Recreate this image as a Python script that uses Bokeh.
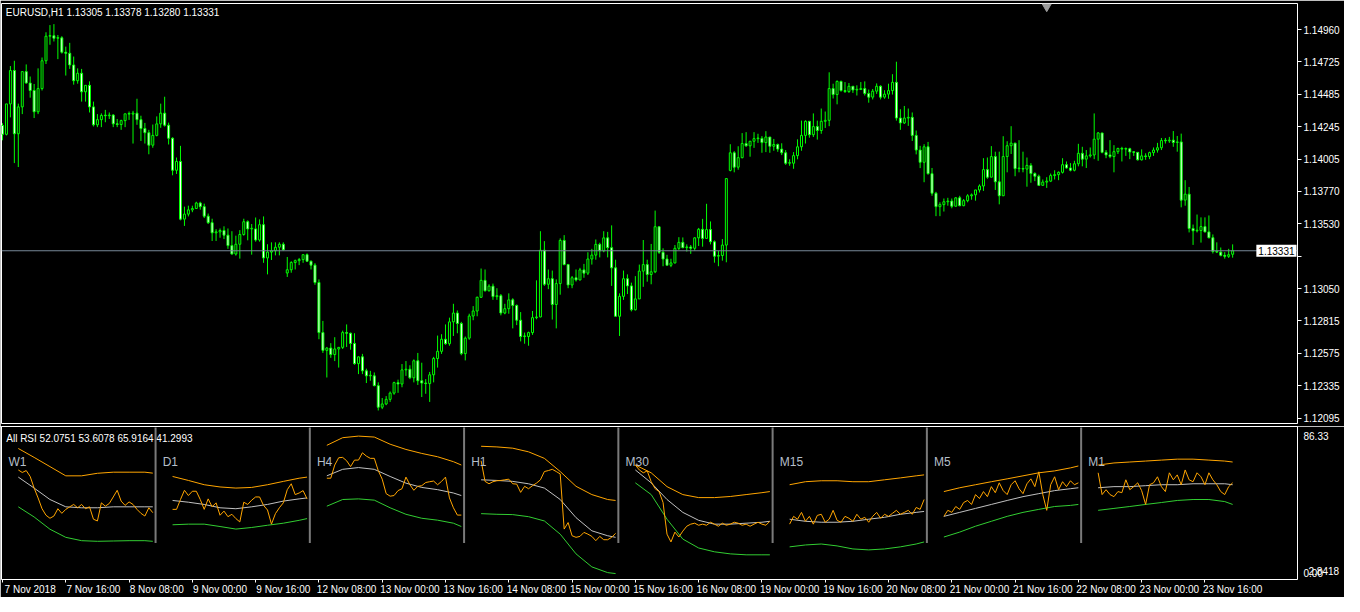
from bokeh.plotting import figure
from bokeh.models import (ColumnDataSource, FixedTicker, Span, Label, Range1d,
                          CustomJSTickFormatter)
from bokeh.layouts import column
from bokeh.embed import file_html
from bokeh.resources import INLINE
from bokeh.core.properties import value

FONT = "Liberation Sans"

chart_title = "EURUSD,H1  1.13305 1.13378 1.13280 1.13331"
rsi_title = "All RSI 52.0751 53.6078 65.9164 41.2993"

# ---------------- EURUSD H1 candles (bar 0 = 7 Nov 2018 00:00) ----------------
first_open = 1.14254
gap_opens = {72: 1.13167, 184: 1.13923, 311: 1.13305}

closes = [
    1.14189, 1.14413, 1.14659, 1.14193, 1.14391, 1.14651, 1.14567, 1.14512, 1.14355, 1.14526,
    1.14731, 1.14912, 1.14916, 1.14897, 1.14900, 1.14794, 1.14786, 1.14700, 1.14584, 1.14639,
    1.14502, 1.14550, 1.14391, 1.14259, 1.14297, 1.14328, 1.14326, 1.14331, 1.14266, 1.14261,
    1.14290, 1.14340, 1.14338, 1.14345, 1.14297, 1.14232, 1.14201, 1.14109, 1.14181, 1.14266,
    1.14345, 1.14256, 1.14160, 1.13924, 1.13989, 1.13564, 1.13601, 1.13632, 1.13642, 1.13683,
    1.13656, 1.13586, 1.13538, 1.13463, 1.13470, 1.13480, 1.13446, 1.13369, 1.13307, 1.13379,
    1.13451, 1.13545, 1.13492, 1.13492, 1.13410, 1.13523, 1.13278, 1.13321, 1.13331, 1.13357,
    1.13379, 1.13338, 1.13191, 1.13244, 1.13258, 1.13266, 1.13302, 1.13254, 1.13225, 1.13097,
    1.12728, 1.12597, 1.12614, 1.12566, 1.12607, 1.12619, 1.12728, 1.12723, 1.12648, 1.12499,
    1.12549, 1.12446, 1.12409, 1.12409, 1.12337, 1.12178, 1.12202, 1.12236, 1.12282, 1.12359,
    1.12349, 1.12453, 1.12458, 1.12395, 1.12520, 1.12373, 1.12356, 1.12352, 1.12417, 1.12537,
    1.12590, 1.12679, 1.12646, 1.12807, 1.12872, 1.12795, 1.12573, 1.12687, 1.12850, 1.12887,
    1.12988, 1.13113, 1.13036, 1.13070, 1.12993, 1.13000, 1.12872, 1.12904, 1.12969, 1.12928,
    1.12819, 1.12699, 1.12699, 1.12728, 1.12838, 1.12843, 1.13335, 1.13084, 1.13125, 1.12935,
    1.13089, 1.13407, 1.13229, 1.13079, 1.13132, 1.13116, 1.13190, 1.13166, 1.13270, 1.13299,
    1.13378, 1.13330, 1.13426, 1.13354, 1.13205, 1.12848, 1.12995, 1.13125, 1.13072, 1.12896,
    1.12976, 1.13181, 1.13229, 1.13156, 1.13176, 1.13508, 1.13320, 1.13270, 1.13224, 1.13241,
    1.13349, 1.13393, 1.13354, 1.13359, 1.13349, 1.13426, 1.13489, 1.13422, 1.13487, 1.13397,
    1.13291, 1.13296, 1.13373, 1.13863, 1.14053, 1.13947, 1.14017, 1.14121, 1.14104, 1.14138,
    1.14157, 1.14159, 1.14128, 1.14169, 1.14101, 1.14114, 1.14080, 1.14053, 1.13976, 1.13976,
    1.14032, 1.14097, 1.14181, 1.14285, 1.14186, 1.14246, 1.14217, 1.14285, 1.14292, 1.14526,
    1.14482, 1.14579, 1.14511, 1.14504, 1.14543, 1.14516, 1.14519, 1.14526, 1.14490, 1.14463,
    1.14507, 1.14543, 1.14463, 1.14485, 1.14511, 1.14572, 1.14309, 1.14273, 1.14309, 1.14314,
    1.14181, 1.14073, 1.13983, 1.14097, 1.13899,
    1.13755, 1.13656, 1.13671, 1.13692, 1.13697, 1.13659, 1.13721, 1.13663, 1.13700, 1.13736,
    1.13743, 1.13779, 1.13808, 1.13929, 1.13873, 1.14025, 1.13839, 1.13736, 1.14025, 1.14105,
    1.14124, 1.13936, 1.13936, 1.13933, 1.13960, 1.13900, 1.13880, 1.13813, 1.13837, 1.13844,
    1.13885, 1.13892, 1.13909, 1.13965, 1.13941, 1.13924, 1.13972, 1.14049, 1.14006, 1.14030,
    1.14037, 1.14153, 1.14199, 1.14056, 1.14037, 1.14025, 1.14061, 1.14085, 1.14080, 1.14083,
    1.14059, 1.14056, 1.14001, 1.14030, 1.14025, 1.14054, 1.14073, 1.14090, 1.14143, 1.14141,
    1.14146, 1.14129, 1.14133, 1.13704, 1.13748, 1.13495, 1.13478, 1.13480, 1.13509, 1.13470,
    1.13427, 1.13326, 1.13321, 1.13297, 1.13290, 1.13302, 1.13331,
]

highs = [
    1.14271, 1.14413, 1.14692, 1.14731, 1.14415, 1.14651, 1.14704, 1.14615, 1.14560, 1.14675,
    1.14755, 1.14941, 1.14994, 1.15001, 1.14921, 1.14912, 1.14835, 1.14863, 1.14762, 1.14675,
    1.14671, 1.14550, 1.14579, 1.14430, 1.14338, 1.14343, 1.14369, 1.14350, 1.14338, 1.14302,
    1.14297, 1.14340, 1.14357, 1.14362, 1.14451, 1.14326, 1.14273, 1.14222, 1.14261, 1.14321,
    1.14415, 1.14466, 1.14275, 1.14167, 1.14018, 1.14104, 1.13656, 1.13663, 1.13663, 1.13692,
    1.13692, 1.13678, 1.13605, 1.13567, 1.13490, 1.13495, 1.13511, 1.13495, 1.13475, 1.13442,
    1.13483, 1.13567, 1.13555, 1.13528, 1.13576, 1.13562, 1.13584, 1.13379, 1.13393, 1.13393,
    1.13393, 1.13393, 1.13285, 1.13254, 1.13266, 1.13278, 1.13302, 1.13311, 1.13258, 1.13239,
    1.13120, 1.12814, 1.12622, 1.12650, 1.12694, 1.12622, 1.12742, 1.12788, 1.12728, 1.12723,
    1.12554, 1.12571, 1.12462, 1.12446, 1.12434, 1.12361, 1.12246, 1.12260, 1.12294, 1.12366,
    1.12381, 1.12496, 1.12518, 1.12487, 1.12530, 1.12578, 1.12506, 1.12385, 1.12438, 1.12549,
    1.12706, 1.12716, 1.12788, 1.12838, 1.12940, 1.12891, 1.12807, 1.12699, 1.12867, 1.12923,
    1.12993, 1.13200, 1.13193, 1.13084, 1.13089, 1.13055, 1.13012, 1.12940, 1.13017, 1.12981,
    1.12935, 1.12879, 1.12728, 1.12735, 1.12887, 1.13113, 1.13475, 1.13402, 1.13193, 1.13185,
    1.13120, 1.13422, 1.13446, 1.13234, 1.13145, 1.13193, 1.13205, 1.13234, 1.13320, 1.13345,
    1.13414, 1.13390, 1.13475, 1.13470, 1.13518, 1.13265, 1.13017, 1.13185, 1.13157, 1.13096,
    1.13144, 1.13229, 1.13410, 1.13265, 1.13381, 1.13627, 1.13508, 1.13349, 1.13301, 1.13272,
    1.13373, 1.13431, 1.13429, 1.13378, 1.13373, 1.13431, 1.13499, 1.13566, 1.13677, 1.13547,
    1.13407, 1.13330, 1.13417, 1.13863, 1.14116, 1.14065, 1.14101, 1.14198, 1.14205, 1.14140,
    1.14205, 1.14193, 1.14176, 1.14212, 1.14145, 1.14155, 1.14121, 1.14123, 1.14073, 1.14005,
    1.14058, 1.14152, 1.14290, 1.14292, 1.14285, 1.14343, 1.14290, 1.14379, 1.14357, 1.14646,
    1.14562, 1.14586, 1.14584, 1.14574, 1.14567, 1.14543, 1.14550, 1.14574, 1.14579, 1.14519,
    1.14523, 1.14564, 1.14550, 1.14514, 1.14562, 1.14632, 1.14724, 1.14374, 1.14398, 1.14379,
    1.14350, 1.14217, 1.14104, 1.14116, 1.14133,
    1.13941, 1.13765, 1.13688, 1.13716, 1.13721, 1.13716, 1.13726, 1.13736, 1.13712, 1.13748,
    1.13753, 1.13779, 1.13820, 1.14013, 1.14018, 1.14102, 1.14061, 1.14061, 1.14175, 1.14138,
    1.14249, 1.14126, 1.14146, 1.14061, 1.14018, 1.13977, 1.13909, 1.13892, 1.13856, 1.13873,
    1.13900, 1.13924, 1.13916, 1.14013, 1.13989, 1.13977, 1.13994, 1.14119, 1.14097, 1.14073,
    1.14092, 1.14343, 1.14206, 1.14199, 1.14073, 1.14146, 1.14109, 1.14090, 1.14097, 1.14092,
    1.14090, 1.14061, 1.14056, 1.14078, 1.14049, 1.14061, 1.14092, 1.14126, 1.14162, 1.14162,
    1.14170, 1.14213, 1.14177, 1.14194, 1.13851, 1.13801, 1.13524, 1.13598, 1.13577, 1.13577,
    1.13591, 1.13451, 1.13393, 1.13355, 1.13321, 1.13345, 1.13378,
]

lows = [
    1.14145, 1.14181, 1.14314, 1.13977, 1.13948, 1.14338, 1.14562, 1.14459, 1.14309, 1.14338,
    1.14512, 1.14707, 1.14849, 1.14873, 1.14743, 1.14784, 1.14622, 1.14671, 1.14555, 1.14562,
    1.14430, 1.14430, 1.14350, 1.14247, 1.14242, 1.14242, 1.14278, 1.14302, 1.14242, 1.14242,
    1.14222, 1.14242, 1.14295, 1.14121, 1.14259, 1.14140, 1.14121, 1.14042, 1.14090, 1.14174,
    1.14237, 1.14246, 1.14114, 1.13887, 1.13897, 1.13555, 1.13514, 1.13584, 1.13615, 1.13639,
    1.13634, 1.13572, 1.13528, 1.13403, 1.13403, 1.13427, 1.13417, 1.13345, 1.13302, 1.13295,
    1.13273, 1.13442, 1.13408, 1.13302, 1.13398, 1.13398, 1.13242, 1.13157, 1.13263, 1.13297,
    1.13297, 1.13331, 1.13138, 1.13169, 1.13193, 1.13225, 1.13242, 1.13249, 1.13193, 1.13080,
    1.12679, 1.12578, 1.12397, 1.12542, 1.12518, 1.12470, 1.12607, 1.12622, 1.12602, 1.12491,
    1.12422, 1.12422, 1.12356, 1.12373, 1.12332, 1.12154, 1.12164, 1.12193, 1.12217, 1.12270,
    1.12284, 1.12325, 1.12409, 1.12385, 1.12361, 1.12342, 1.12253, 1.12277, 1.12217, 1.12361,
    1.12470, 1.12571, 1.12638, 1.12631, 1.12703, 1.12723, 1.12561, 1.12523, 1.12675, 1.12819,
    1.12848, 1.12983, 1.13031, 1.13031, 1.12969, 1.12969, 1.12855, 1.12863, 1.12867, 1.12759,
    1.12783, 1.12663, 1.12646, 1.12631, 1.12711, 1.12826, 1.12841, 1.13072, 1.13048, 1.12824,
    1.12759, 1.13007, 1.13224, 1.13055, 1.13055, 1.13104, 1.13113, 1.13132, 1.13152, 1.13229,
    1.13265, 1.13282, 1.13320, 1.13282, 1.13072, 1.12848, 1.12703, 1.12969, 1.13012, 1.12884,
    1.12891, 1.13007, 1.13065, 1.13103, 1.13084, 1.13166, 1.13308, 1.13217, 1.13224, 1.13210,
    1.13238, 1.13337, 1.13349, 1.13325, 1.13308, 1.13332, 1.13366, 1.13361, 1.13426, 1.13378,
    1.13243, 1.13217, 1.13258, 1.13246, 1.13916, 1.13909, 1.13928, 1.14012, 1.14097, 1.14024,
    1.14089, 1.14126, 1.14053, 1.14058, 1.14053, 1.14068, 1.14060, 1.14036, 1.13964, 1.13957,
    1.13935, 1.14005, 1.14068, 1.14121, 1.14164, 1.14169, 1.14150, 1.14193, 1.14236, 1.14249,
    1.14453, 1.14410, 1.14504, 1.14494, 1.14494, 1.14494, 1.14475, 1.14519, 1.14475, 1.14422,
    1.14446, 1.14487, 1.14446, 1.14451, 1.14451, 1.14482, 1.14290, 1.14222, 1.14265, 1.14251,
    1.14140, 1.14041, 1.13940, 1.13836, 1.13892,
    1.13736, 1.13586, 1.13586, 1.13620, 1.13663, 1.13644, 1.13659, 1.13659, 1.13659, 1.13688,
    1.13707, 1.13700, 1.13760, 1.13772, 1.13861, 1.13880, 1.13779, 1.13673, 1.13736, 1.13909,
    1.14044, 1.13880, 1.13909, 1.13909, 1.13803, 1.13832, 1.13844, 1.13808, 1.13820, 1.13794,
    1.13837, 1.13856, 1.13851, 1.13900, 1.13936, 1.13916, 1.13916, 1.13953, 1.13953, 1.13941,
    1.14018, 1.14006, 1.13994, 1.14049, 1.14013, 1.14013, 1.13909, 1.14044, 1.13989, 1.14030,
    1.14006, 1.14030, 1.13996, 1.13996, 1.14001, 1.14006, 1.14030, 1.14054, 1.14073, 1.14121,
    1.14126, 1.14097, 1.14061, 1.13651, 1.13663, 1.13466, 1.13374, 1.13466, 1.13391, 1.13466,
    1.13422, 1.13311, 1.13314, 1.13290, 1.13273, 1.13278, 1.13280,
]

price_ticks = [1.14960, 1.14725, 1.14485, 1.14245, 1.14005, 1.13770, 1.13530,
               1.13290, 1.13050, 1.12815, 1.12575, 1.12335, 1.12095]
price_tick_labels = ["1.14960", "1.14725", "1.14485", "1.14245", "1.14005", "1.13770", "1.13530",
                     "", "1.13050", "1.12815", "1.12575", "1.12335", "1.12095"]

time_tick_bars = [0, 16, 32, 48, 64, 80, 96, 112, 128, 144,
                  160, 176, 192, 208, 224, 240, 256, 272, 288, 304]
time_tick_labels = ["7 Nov 2018", "7 Nov 16:00", "8 Nov 08:00", "9 Nov 00:00", "9 Nov 16:00",
                    "12 Nov 08:00", "13 Nov 00:00", "13 Nov 16:00", "14 Nov 08:00", "15 Nov 00:00",
                    "15 Nov 16:00", "16 Nov 08:00", "19 Nov 00:00", "19 Nov 16:00", "20 Nov 08:00",
                    "21 Nov 00:00", "21 Nov 16:00", "22 Nov 08:00", "23 Nov 00:00", "23 Nov 16:00"]

# ---------------- All RSI mini panels ----------------
panel_names = ["W1", "D1", "H4", "H1", "M30", "M15", "M5", "M1"]
rsi_axis_ticks = [0.0, 1.5, 86.33]
rsi_axis_labels = ["0.00", "\u20022.8418", "86.33"]
band_offsets = [0, 4, 8, 12, 16, 20, 24, 28, 32, 34]

rsi_W1 = [65.2, 63.6, 64.8, 61.1, 53.8, 47.6, 40.8, 36.7, 34.8, 36.2, 40.8, 37.9, 40.4, 42.0, 43.5, 41.4, 43.5, 40.8,
          42.0, 34.2, 33.1, 44.5, 42.4, 44.1, 48.2, 52.4, 45.6, 42.9, 45.1, 43.5, 40.4, 37.9, 36.2, 41.4, 38.3]
upper_W1 = [78.7, 73.1, 67.3, 61.5, 61.5, 63.1, 63.8, 63.8, 63.8, 63.2]
mid_W1 = [60.7, 53.8, 46.6, 42.0, 41.4, 41.4, 42.0, 42.0, 42.0, 42.0]
lower_W1 = [42.0, 35.6, 27.9, 22.8, 20.7, 20.3, 20.5, 20.7, 20.7, 20.3]

rsi_D1 = [40.4, 40.4, 46.6, 52.4, 49.1, 51.8, 51.8, 46.6, 40.4, 47.0, 42.0, 44.5, 36.7, 39.3, 35.8, 37.3, 34.6, 32.5,
          44.9, 43.5, 46.2, 48.2, 48.2, 42.9, 40.0, 31.1, 37.7, 41.4, 44.5, 52.8, 56.5, 49.7, 50.7, 52.2, 47.0]
upper_D1 = [61.1, 58.6, 55.9, 54.5, 53.8, 54.2, 55.9, 58.0, 60.0, 60.7]
mid_D1 = [46.0, 44.9, 43.5, 41.4, 40.8, 42.0, 43.5, 45.6, 47.0, 47.6]
lower_D1 = [30.7, 31.1, 31.1, 29.6, 28.0, 29.0, 30.4, 31.7, 33.5, 34.6]

rsi_H4 = [60.0, 60.0, 68.3, 72.9, 73.1, 71.0, 67.3, 71.4, 71.4, 76.0, 73.9, 72.5, 72.5, 64.8, 59.4, 50.3, 48.7, 49.1,
          52.2, 53.4, 60.7, 55.9, 52.4, 54.9, 55.3, 57.3, 57.8, 58.2, 55.9, 58.0, 60.7, 47.6, 41.4, 36.8, 36.8]
upper_H4 = [80.7, 85.5, 86.5, 85.9, 81.4, 78.1, 75.6, 73.5, 70.4, 68.3]
mid_H4 = [61.5, 65.6, 66.7, 65.6, 61.1, 56.9, 54.2, 52.8, 50.7, 49.1]
lower_H4 = [42.4, 46.6, 47.0, 46.2, 41.4, 37.3, 34.8, 33.6, 31.7, 29.6]

rsi_H1 = [71.0, 58.0, 56.5, 57.8, 58.4, 58.6, 59.0, 59.4, 56.5, 56.3, 51.1, 54.9, 53.4, 55.3, 56.9, 59.0, 64.2, 64.8,
          65.6, 64.2, 62.7, 28.0, 32.1, 23.8, 22.8, 23.4, 25.9, 24.8, 23.4, 20.7, 23.4, 21.3, 21.3, 22.8, 25.3]
upper_H1 = [80.1, 79.7, 78.9, 76.6, 72.5, 64.2, 54.9, 49.7, 46.6, 46.0]
mid_H1 = [59.0, 58.6, 58.0, 56.5, 53.8, 46.6, 35.2, 26.9, 23.8, 22.8]
lower_H1 = [37.7, 37.3, 37.1, 35.8, 33.1, 24.8, 12.4, 4.2, 0.6, 0.0]

rsi_M30 = [68.3, 65.2, 63.4, 64.6, 57.8, 53.4, 51.6, 44.7, 24.8, 19.9, 26.1, 23.0, 26.7, 29.8, 31.1, 31.7, 30.4, 31.1,
           30.4, 32.3, 31.1, 29.8, 31.7, 30.4, 31.1, 32.3, 31.7, 30.4, 31.1, 29.8, 31.1, 32.3, 31.1, 30.4, 32.9]
upper_M30 = [68.3, 63.4, 54.7, 49.7, 47.8, 47.8, 48.5, 49.7, 50.9, 51.6]
mid_M30 = [65.2, 57.1, 46.6, 38.5, 33.5, 31.1, 31.1, 31.7, 32.3, 32.9]
lower_M30 = [57.1, 49.7, 34.2, 21.7, 16.1, 13.7, 12.4, 11.8, 11.8, 11.8]

rsi_M15 = [31.1, 36.0, 34.2, 38.5, 32.9, 36.0, 31.1, 36.6, 37.3, 32.3, 34.2, 39.8, 33.5, 32.3, 36.0, 34.8, 32.9, 37.3,
           34.2, 35.4, 32.3, 36.0, 38.5, 34.8, 37.3, 36.0, 37.9, 39.8, 37.3, 38.5, 39.8, 37.3, 41.6, 40.4, 46.6]
upper_M15 = [55.9, 57.8, 58.4, 58.4, 57.8, 57.8, 59.0, 60.2, 61.5, 62.1]
mid_M15 = [34.2, 32.9, 32.3, 32.3, 32.9, 34.2, 35.4, 37.3, 38.5, 39.1]
lower_M15 = [16.8, 18.0, 18.6, 17.4, 15.5, 14.9, 15.5, 16.8, 18.6, 19.9]

rsi_M5 = [36.0, 39.8, 38.5, 42.2, 40.4, 44.7, 46.0, 43.5, 49.7, 47.2, 51.6, 48.4, 54.7, 50.9, 57.1, 52.2, 49.7, 55.9,
          58.4, 53.4, 50.3, 56.5, 59.6, 54.7, 64.0, 49.7, 39.8, 55.9, 60.9, 52.8, 57.8, 54.7, 58.4, 55.9, 57.1]
upper_M5 = [51.6, 54.0, 55.9, 57.8, 59.6, 61.5, 63.4, 64.6, 66.5, 67.7]
mid_M5 = [36.0, 38.5, 41.0, 43.5, 46.0, 48.4, 50.3, 52.2, 53.4, 54.0]
lower_M5 = [23.0, 26.1, 29.8, 32.9, 36.0, 38.5, 40.4, 42.2, 42.9, 43.5]

rsi_M1 = [63.4, 49.7, 52.8, 49.7, 48.4, 51.6, 50.9, 59.0, 52.8, 54.7, 57.1, 52.2, 43.5, 55.9, 57.1, 60.9, 54.7, 51.6,
          63.4, 59.0, 62.1, 55.9, 65.2, 59.0, 57.8, 63.4, 60.9, 55.9, 63.4, 59.0, 55.9, 51.6, 49.7, 54.7, 57.1]
upper_M1 = [68.3, 69.6, 70.2, 70.8, 71.4, 72.0, 72.0, 71.4, 70.8, 70.2]
mid_M1 = [54.0, 54.7, 54.7, 55.3, 55.9, 55.9, 56.5, 56.5, 56.5, 55.9]
lower_M1 = [39.8, 41.0, 42.2, 43.5, 44.7, 46.0, 46.6, 46.6, 45.3, 43.5]

rsi_lines = [rsi_W1, rsi_D1, rsi_H4, rsi_H1, rsi_M30, rsi_M15, rsi_M5, rsi_M1]
upper_bands = [upper_W1, upper_D1, upper_H4, upper_H1, upper_M30, upper_M15, upper_M5, upper_M1]
mid_bands = [mid_W1, mid_D1, mid_H4, mid_H1, mid_M30, mid_M15, mid_M5, mid_M1]
lower_bands = [lower_W1, lower_D1, lower_H4, lower_H1, lower_M30, lower_M15, lower_M5, lower_M1]

# ---------------- layout / style constants ----------------
FRAME_W = 1296
RIGHT_BORDER = 47
MAIN_H = 420
SUB_H = 153
X_START, X_END = -0.25, 327.4
PRICE_LO, PRICE_HI = 1.12058, 1.15153
RSI_LO, RSI_HI = -3.73, 92.54
PANEL_FIRST_BAR = 4
PANEL_STEP = 39
SEP_FIRST = 38.7
SEP_BOTTOM, SEP_TOP = 19.3, 91.9
PANEL_LABEL_V = 74.5
LABEL_SHIFT = 7.0
SHIFT_MARKER_BAR = 264.0
BULL_FILL, BEAR_FILL, CANDLE_LINE = "black", "white", "#00FF00"
TXT = "10px"

# ---------------- candle source ----------------
n = min(len(closes), len(highs), len(lows))
opens = [first_open] + closes[:n - 1]
for k, v in gap_opens.items():
    if k < n:
        opens[k] = v
min_body = (PRICE_HI - PRICE_LO) / MAIN_H * 0.6
xs, tops, bots, his, los, fills = [], [], [], [], [], []
for i in range(n):
    o, c = opens[i], closes[i]
    t, b = max(o, c), min(o, c)
    if t - b < min_body:
        t = b + min_body
    xs.append(i)
    tops.append(t)
    bots.append(b)
    his.append(max(highs[i], o, c))
    los.append(min(lows[i], o, c))
    fills.append(BEAR_FILL if c < o else BULL_FILL)
src = ColumnDataSource(dict(x=xs, top=tops, bottom=bots, high=his, low=los, fill=fills))

xr = Range1d(X_START, X_END)

NEAREST_JS = """
let best = 0, d = 1e9;
for (let i = 0; i < pos.length; i++) {
    const e = Math.abs(pos[i] - tick);
    if (e < d) { d = e; best = i; }
}
return labels[best];
"""


def style_common(p):
    p.grid.visible = False
    p.background_fill_color = "black"
    p.border_fill_color = "black"
    p.outline_line_color = "white"
    p.outline_line_width = 1


# ---------------- main price chart ----------------
pm = figure(frame_width=FRAME_W, frame_height=MAIN_H, x_range=xr,
            y_range=Range1d(PRICE_LO, PRICE_HI), output_backend="svg",
            toolbar_location=None, y_axis_location="right", x_axis_location=None,
            min_border_left=1, min_border_right=RIGHT_BORDER, min_border_top=3, min_border_bottom=3)
style_common(pm)
ya = pm.yaxis[0]
ya.ticker = FixedTicker(ticks=price_ticks)
ya.formatter = CustomJSTickFormatter(args=dict(pos=price_ticks, labels=price_tick_labels), code=NEAREST_JS)
ya.axis_line_color = None
ya.major_tick_line_color = "white"
ya.major_tick_out = 4
ya.major_tick_in = 0
ya.minor_tick_line_color = None
ya.major_label_standoff = 2
ya.major_label_text_color = "white"
ya.major_label_text_font = FONT
ya.major_label_text_font_size = TXT

pm.segment(x0="x", y0="low", x1="x", y1="high", source=src, line_color=CANDLE_LINE, line_width=1)
pm.vbar(x="x", width=0.5, top="top", bottom="bottom", fill_color="fill",
        line_color=CANDLE_LINE, line_width=1, source=src)

last_close = closes[n - 1]
pm.add_layout(Span(location=last_close, dimension="width", line_color="#778899", line_width=1))

px_price = (PRICE_HI - PRICE_LO) / MAIN_H
pm.text(x=[X_START + 1.1], y=[PRICE_HI - 3 * px_price], text=[chart_title], text_color="white",
        text_font=value(FONT), text_font_size=TXT, text_baseline="top", text_align="left")
pm.scatter(x=[SHIFT_MARKER_BAR], y=[PRICE_HI - 3 * px_price], marker="inverted_triangle", size=9,
           fill_color="#9A9A9A", line_color="#9A9A9A")
pm.add_layout(Label(x=X_END, y=last_close, x_offset=-1, text=f"{last_close:.5f}", text_color="black",
                    background_fill_color="white", text_font=FONT, text_font_size=TXT,
                    text_baseline="middle", text_align="right", padding=2))

# ---------------- RSI sub window ----------------
ps = figure(frame_width=FRAME_W, frame_height=SUB_H, x_range=xr,
            y_range=Range1d(RSI_LO, RSI_HI), output_backend="svg",
            toolbar_location=None, y_axis_location="right", x_axis_location="below",
            min_border_left=1, min_border_right=RIGHT_BORDER, min_border_top=0, min_border_bottom=12)
style_common(ps)
sa = ps.yaxis[0]
sa.ticker = FixedTicker(ticks=rsi_axis_ticks)
sa.formatter = CustomJSTickFormatter(args=dict(pos=rsi_axis_ticks, labels=rsi_axis_labels), code=NEAREST_JS)
sa.axis_line_color = None
sa.major_tick_line_color = None
sa.major_tick_out = 4
sa.minor_tick_line_color = None
sa.major_label_standoff = 2
sa.major_label_text_color = "white"
sa.major_label_text_font = FONT
sa.major_label_text_font_size = TXT

label_pos = [b + LABEL_SHIFT for b in time_tick_bars]
xa = ps.xaxis[0]
xa.ticker = FixedTicker(ticks=label_pos, minor_ticks=time_tick_bars)
xa.formatter = CustomJSTickFormatter(args=dict(pos=label_pos, labels=time_tick_labels), code=NEAREST_JS)
xa.axis_line_color = None
xa.major_tick_line_color = None
xa.major_tick_out = 3
xa.major_tick_in = 0
xa.minor_tick_line_color = "white"
xa.minor_tick_out = 3
xa.minor_tick_in = 0
xa.major_label_standoff = 1
xa.major_label_text_color = "white"
xa.major_label_text_font = FONT
xa.major_label_text_font_size = TXT

px_rsi = (RSI_HI - RSI_LO) / SUB_H
ps.text(x=[X_START + 1.2], y=[RSI_HI - 6 * px_rsi], text=[rsi_title], text_color="white",
        text_font=value(FONT), text_font_size=TXT, text_baseline="top", text_align="left")

for k in range(len(panel_names)):
    x0 = PANEL_FIRST_BAR + PANEL_STEP * k
    bx = [x0 + o for o in band_offsets]
    ps.line(bx, upper_bands[k], line_color="#FFA500", line_width=1)
    ps.line(bx, mid_bands[k], line_color="#C0C0C0", line_width=1)
    ps.line(bx, lower_bands[k], line_color="#32CD32", line_width=1)
    rx = [x0 + j for j in range(len(rsi_lines[k]))]
    ps.line(rx, rsi_lines[k], line_color="#FFA500", line_width=1)

sep_x = [SEP_FIRST + PANEL_STEP * k for k in range(len(panel_names) - 1)]
ps.segment(x0=sep_x, y0=[SEP_BOTTOM] * len(sep_x), x1=sep_x, y1=[SEP_TOP] * len(sep_x),
           line_color="#7A7A7A", line_width=2)
ps.text(x=[1.5 + PANEL_STEP * k for k in range(len(panel_names))], y=[PANEL_LABEL_V] * len(panel_names),
        text=panel_names, text_color="#B4BEC8", text_font=value(FONT), text_font_size="12px",
        text_baseline="top", text_align="left")

layout = column(pm, ps, spacing=0)
open("out.html", "w").write(file_html(layout, INLINE))
